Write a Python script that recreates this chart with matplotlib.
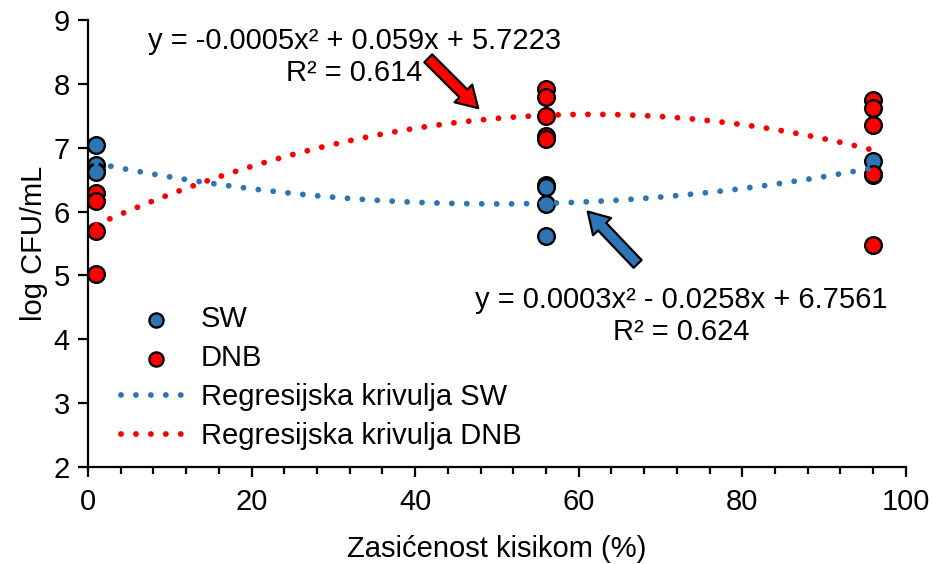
import numpy as np
import matplotlib
matplotlib.use("Agg")
import matplotlib.pyplot as plt
from matplotlib.ticker import MultipleLocator

plt.rcParams['font.family'] = ['Liberation Sans', 'DejaVu Sans']

# ---- data ----
sw_x = [1, 1, 1, 1, 56, 56, 56, 56, 96, 96]
sw_y = [7.04, 6.73, 6.63, 6.62, 6.41, 6.38, 6.12, 5.61, 6.79, 6.58]
dnb_x = [1, 1, 1, 1, 56, 56, 56, 56, 56, 96, 96, 96, 96, 96]
dnb_y = [6.29, 6.16, 5.70, 5.02, 7.92, 7.80, 7.50, 7.18, 7.14, 7.75, 7.63, 7.36, 6.59, 5.48]

eq_sw = "y = 0.0003x\u00b2 - 0.0258x + 6.7561\nR\u00b2 = 0.624"
eq_dnb = "y = -0.0005x\u00b2 + 0.059x + 5.7223\nR\u00b2 = 0.614"

xlabel = "Zasićenost kisikom (%)"
ylabel = "log CFU/mL"
labels = ["SW", "DNB", "Regresijska krivulja SW", "Regresijska krivulja DNB"]

blue = "#2E75B6"
red = "#FF0000"
FS = 21

fig = plt.figure(figsize=(9.32, 5.64), dpi=100)
ax = fig.add_axes([0.0944, 0.172, 0.8776, 0.7925])

# regression curves (quadratic fits of the data)
xs = np.linspace(min(sw_x), max(sw_x), 300)
p_sw = np.polyfit(sw_x, sw_y, 2)
p_dnb = np.polyfit(dnb_x, dnb_y, 2)

h_sw = ax.scatter(sw_x, sw_y, s=12**2, c=blue, edgecolors='black', linewidths=1.7, zorder=3, clip_on=False)
h_dnb = ax.scatter(dnb_x, dnb_y, s=12**2, c=red, edgecolors='black', linewidths=1.7, zorder=3, clip_on=False)

ls = (0, (0.01, 2.55))
l_sw, = ax.plot(xs, np.polyval(p_sw, xs), color=blue, lw=4.2, ls=ls, dash_capstyle='round', zorder=4)
l_dnb, = ax.plot(xs, np.polyval(p_dnb, xs), color=red, lw=4.2, ls=ls, dash_capstyle='round', zorder=4)

ax.set_xlim(0, 100)
ax.set_ylim(2, 9)
ax.xaxis.set_major_locator(MultipleLocator(20))
ax.xaxis.set_minor_locator(MultipleLocator(4))
ax.yaxis.set_major_locator(MultipleLocator(1))

for s in ['top', 'right']:
    ax.spines[s].set_visible(False)
for s in ['left', 'bottom']:
    ax.spines[s].set_linewidth(1.6)
    ax.spines[s].set_color('black')

ax.tick_params(axis='both', which='major', direction='out', length=7, width=1.6, labelsize=FS, pad=6)
ax.tick_params(axis='x', which='major', pad=8)
ax.tick_params(axis='x', which='minor', direction='out', length=5, width=1.6)

ax.set_xlabel(xlabel, fontsize=FS, labelpad=14)
ax.set_ylabel(ylabel, fontsize=FS, labelpad=4)

# equations
ax.text(32.6, 8.42, eq_dnb, fontsize=FS, ha='center', va='center', linespacing=1.2)
ax.text(72.5, 4.36, eq_sw, fontsize=FS, ha='center', va='center', linespacing=1.2)

# block arrows
arrow_style = "simple,head_length=0.75,head_width=0.9,tail_width=0.4"
ax.annotate('', xy=(47.7, 7.62), xytext=(41.6, 8.40),
            arrowprops=dict(arrowstyle=arrow_style, fc=red, ec='black', lw=1.6,
                            mutation_scale=20, shrinkA=0, shrinkB=0), zorder=5)
ax.annotate('', xy=(61.1, 6.00), xytext=(67.2, 5.18),
            arrowprops=dict(arrowstyle=arrow_style, fc=blue, ec='black', lw=1.6,
                            mutation_scale=20, shrinkA=0, shrinkB=0), zorder=5)

leg = ax.legend([h_sw, h_dnb, l_sw, l_dnb], labels, loc='upper left',
                bbox_to_anchor=(0.04, 0.362), frameon=False, fontsize=FS,
                handlelength=2.4, handletextpad=0.35, labelspacing=0.38,
                borderpad=0, borderaxespad=0, scatterpoints=1, markerscale=0.85)

fig.savefig("out.png", dpi=100)
